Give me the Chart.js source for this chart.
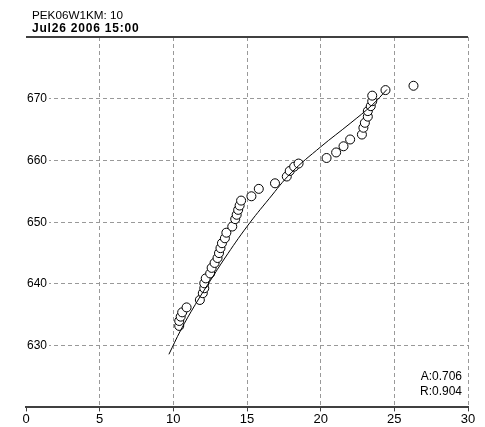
<!DOCTYPE html>
<html>
<head>
<meta charset="utf-8">
<title>PEK06W1KM: 10</title>
<script src="https://cdn.jsdelivr.net/npm/chart.js@4"></script>
<style>
  html, body { margin: 0; padding: 0; background: #fff; }
  canvas { display: block; }
</style>
</head>
<body>
<canvas id="chart" width="485" height="427"></canvas>
<script>
const headerLine1 = "PEK06W1KM: 10";
const headerLine2 = "Jul26 2006 15:00";
const statLines = ["A:0.706", "R:0.904"];

const xTicks = [0, 5, 10, 15, 20, 25, 30];
const yTicks = [630, 640, 650, 660, 670];

// measured points (circles)
const obsX = [10.4, 10.4, 10.5, 10.6, 10.9, 11.8, 12.0, 12.1, 12.1, 12.2, 12.5, 12.6, 12.8, 13.0, 13.1,
  13.2, 13.3, 13.5, 13.6, 14.0, 14.2, 14.3, 14.4, 14.5, 14.6, 15.3, 15.8, 16.9, 17.7, 17.9,
  18.2, 18.5, 20.4, 21.05, 21.55, 22.0, 22.8, 22.9, 23.0, 23.2, 23.2, 23.4, 23.5, 23.5, 24.4, 26.3];
const obsY = [633.2, 634.0, 634.7, 635.4, 636.2, 637.4, 638.5, 639.3, 640.1, 640.9, 641.7, 642.6, 643.4, 644.2, 645.0,
  645.8, 646.6, 647.4, 648.3, 649.3, 650.5, 651.2, 652.0, 652.7, 653.5, 654.2, 655.4, 656.3, 657.4, 658.3,
  659.0, 659.5, 660.4, 661.3, 662.3, 663.4, 664.2, 665.3, 666.1, 667.1, 668.0, 668.8, 669.6, 670.5, 671.4, 672.1];

// fitted curve
const fitX = [9.7, 10.5, 11.5, 12.5, 13.5, 15, 16.5, 18, 20, 22, 23.5, 24.5];
const fitY = [628.6, 632.5, 636.7, 640.5, 644.2, 649.3, 653.8, 658, 662.2, 666, 669, 671.5];

const FONT = "'Liberation Sans', Arial, sans-serif";

const decor = {
  id: "decor",
  afterDraw(c) {
    const ctx = c.ctx;
    const a = c.chartArea;
    ctx.save();
    // top frame line
    ctx.strokeStyle = "#404040";
    ctx.lineWidth = 2;
    ctx.beginPath();
    ctx.moveTo(a.left, a.top);
    ctx.lineTo(a.right, a.top);
    ctx.stroke();

    ctx.fillStyle = "#000";
    ctx.textAlign = "left";
    ctx.textBaseline = "alphabetic";
    ctx.font = "11.7px " + FONT;
    ctx.fillText(headerLine1, 32, 19);
    ctx.font = "bold 12px " + FONT;
    ctx.letterSpacing = "0.8px";
    ctx.fillText(headerLine2, 32, 32);
    ctx.letterSpacing = "0px";

    ctx.font = "12px " + FONT;
    ctx.textAlign = "right";
    ctx.textBaseline = "middle";
    statLines.forEach((s, i) => ctx.fillText(s, 462, 377 + i * 15));
    ctx.restore();
  }
};

new Chart(document.getElementById("chart"), {
  type: "scatter",
  data: {
    datasets: [
      {
        type: "line",
        data: fitX.map((x, i) => ({ x, y: fitY[i] })),
        borderColor: "#000",
        borderWidth: 1,
        pointRadius: 0,
        tension: 0.4,
        fill: false,
        order: 0
      },
      {
        data: obsX.map((x, i) => ({ x, y: obsY[i] })),
        pointRadius: 4.5,
        pointBorderWidth: 1,
        borderColor: "#000",
        backgroundColor: "#fff",
        order: 1
      }
    ]
  },
  options: {
    responsive: false,
    animation: false,
    layout: { padding: { left: 24, right: 17, top: 37, bottom: 0 } },
    plugins: { legend: { display: false }, tooltip: { enabled: false } },
    scales: {
      x: {
        type: "linear",
        min: 0,
        max: 30,
        afterBuildTicks: (s) => { s.ticks = xTicks.map((v) => ({ value: v })); },
        grid: {
          color: (ctx) => (ctx.tick && ctx.tick.value === 0 ? "rgba(0,0,0,0)" : "#999"),
          lineWidth: 1,
          tickLength: 4,
          tickColor: "#404040",
          tickBorderDash: []
        },
        border: { display: true, color: "#404040", width: 2, dash: [4, 3] },
        ticks: { color: "#000", padding: 0, maxRotation: 0, font: { family: FONT, size: 13, lineHeight: 1.2 } }
      },
      y: {
        type: "linear",
        min: 620,
        max: 680,
        afterBuildTicks: (s) => { s.ticks = yTicks.map((v) => ({ value: v })); },
        grid: { color: "#999", lineWidth: 1, drawTicks: false },
        border: { display: false, dash: [4, 3] },
        ticks: {
          mirror: true,
          padding: 1,
          color: "#000",
          font: { family: FONT, size: 12 },
          showLabelBackdrop: true,
          backdropColor: "#fff",
          backdropPadding: { left: 1, right: 2, top: 0, bottom: 0 }
        }
      }
    }
  },
  plugins: [decor]
});
</script>
</body>
</html>
